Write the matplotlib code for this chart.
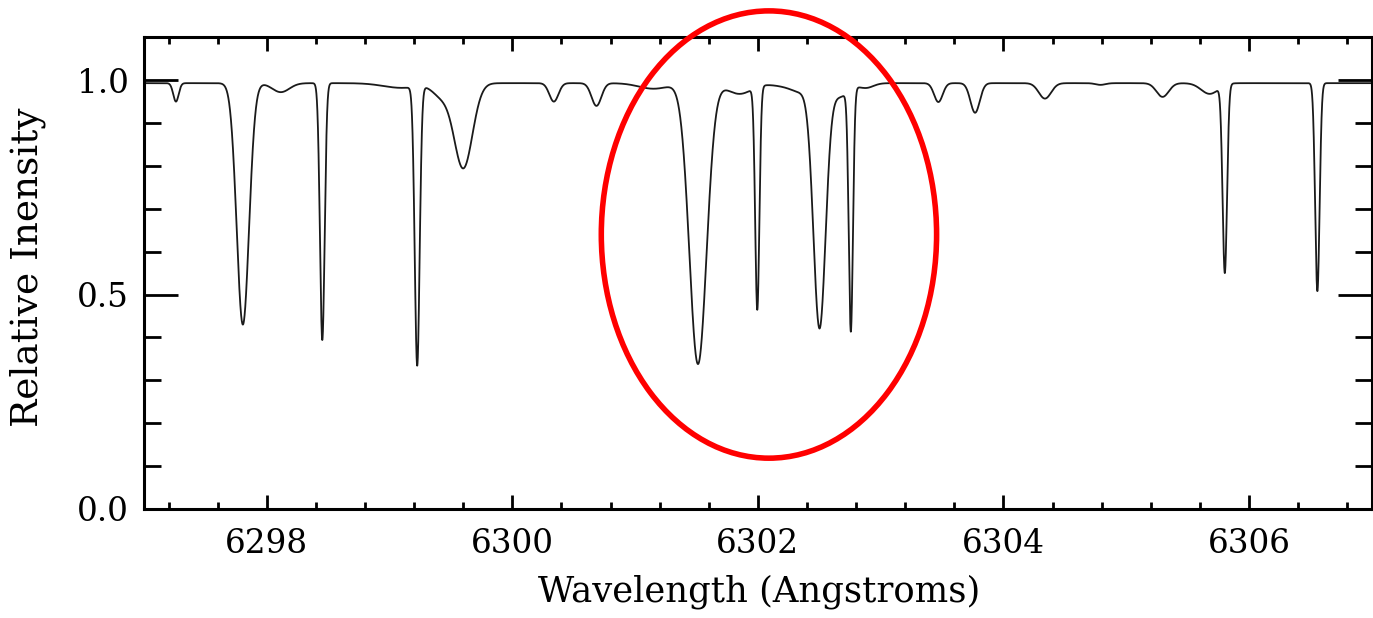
import numpy as np
import matplotlib.pyplot as plt
from matplotlib.patches import Ellipse
from matplotlib.ticker import MultipleLocator, FixedLocator


# continuum level of the normalised spectrum
CONTINUUM = 0.993

# absorption lines: centre (A), minimum intensity, gaussian width (A)
line_centers = [6297.26, 6297.805, 6298.114, 6298.452, 6299.10, 6299.225, 6299.42,
                6299.60, 6300.338, 6300.685, 6301.15, 6301.512, 6301.85, 6301.995,
                6302.25, 6302.36, 6302.502, 6302.67, 6302.757, 6302.88, 6303.47,
                6303.769, 6304.338, 6304.79, 6305.296, 6305.68, 6305.803, 6306.557]
line_minima = [0.950, 0.430, 0.972, 0.394, 0.982, 0.337, 0.965,
               0.795, 0.950, 0.940, 0.980, 0.338, 0.968, 0.469,
               0.985, 0.978, 0.423, 0.962, 0.420, 0.982, 0.949,
               0.924, 0.957, 0.989, 0.961, 0.968, 0.553, 0.508]
line_widths = [0.022, 0.050, 0.070, 0.019, 0.150, 0.020, 0.070,
               0.075, 0.037, 0.040, 0.120, 0.070, 0.100, 0.017,
               0.120, 0.075, 0.050, 0.070, 0.017, 0.060, 0.035,
               0.038, 0.050, 0.040, 0.050, 0.070, 0.018, 0.018]

x_major_ticks = [6298, 6300, 6302, 6304, 6306]
y_major_ticks = [0.0, 0.5, 1.0]
y_tick_labels = ["0.0", "0.5", "1.0"]

# highlighted region (centre wavelength, centre intensity, width, height)
ellipse_center = (6302.09, 0.640)
ellipse_size = (2.731, 1.043)


def build_spectrum(wave):
    flux = np.full_like(wave, CONTINUUM)
    for c, m, w in zip(line_centers, line_minima, line_widths):
        depth = 1.0 - m / CONTINUUM
        flux *= 1.0 - depth * np.exp(-0.5 * ((wave - c) / w) ** 2)
    return flux


def main():
    plt.rcParams["font.family"] = ["DejaVu Serif"]

    wave = np.linspace(6297.0, 6307.0, 20001)
    flux = build_spectrum(wave)

    fig = plt.figure(figsize=(13.73, 6.18), dpi=100)
    ax = fig.add_axes([0.1049, 0.1764, 0.8942, 0.7633])
    ax.plot(wave, flux, color="#1a1a1a", lw=1.3)

    ax.set_xlim(6297, 6307)
    ax.set_ylim(0, 1.1)

    ax.xaxis.set_major_locator(FixedLocator(x_major_ticks))
    ax.xaxis.set_minor_locator(MultipleLocator(0.4))
    ax.yaxis.set_major_locator(FixedLocator(y_major_ticks))
    ax.yaxis.set_minor_locator(MultipleLocator(0.1))
    ax.set_xticklabels([str(t) for t in x_major_ticks])
    ax.set_yticklabels(y_tick_labels)

    for s in ax.spines.values():
        s.set_linewidth(2.2)
    ax.tick_params(which="both", direction="in", top=True, right=True,
                   width=2.0, labelsize=23.5, color="black")
    ax.tick_params(axis="x", which="major", length=10, pad=14)
    ax.tick_params(axis="x", which="minor", length=5)
    ax.tick_params(axis="y", which="major", length=24.5, pad=11)
    ax.tick_params(axis="y", which="minor", length=12)

    fig.text(759 / 1373, (618 - 592) / 618, "Wavelength (Angstroms)",
             ha="center", va="center", fontsize=25.5)
    fig.text(28 / 1373, (618 - 267) / 618, "Relative Inensity",
             ha="center", va="center", rotation=90, fontsize=27)

    ell = Ellipse(ellipse_center, ellipse_size[0], ellipse_size[1],
                  fill=False, edgecolor="red", lw=4, clip_on=False, zorder=5)
    ax.add_patch(ell)

    fig.savefig("out.png", dpi=100)


if __name__ == "__main__":
    main()
